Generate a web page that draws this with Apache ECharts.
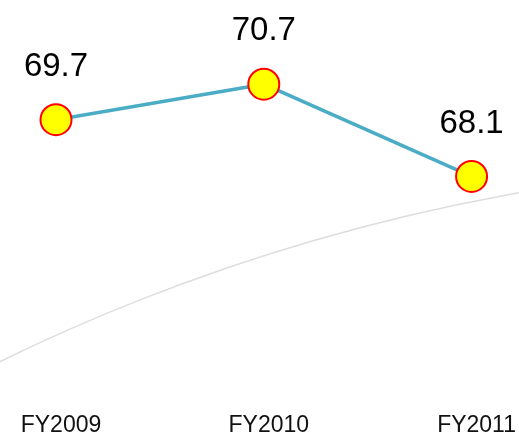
<!DOCTYPE html>
<html>
<head>
<meta charset="utf-8">
<script src="https://cdn.jsdelivr.net/npm/echarts@6/dist/echarts.min.js"></script>
<style>html,body{margin:0;padding:0;background:#fff;}#c{width:519px;height:437px;}</style>
</head>
<body>
<div id="c"></div>
<script>
var categories = ['FY2009', 'FY2010', 'FY2011'];
var values = [69.7, 70.7, 68.1];

var chart = echarts.init(document.getElementById('c'));
chart.setOption({
  animation: false,
  backgroundColor: '#ffffff',
  grid: { left: 56, right: 46, top: 38, bottom: 40 },
  graphic: [{
    type: 'circle',
    z: 0,
    silent: true,
    shape: { cx: 859, cy: 2120, r: 1957 },
    style: { fill: 'none', stroke: '#dddddd', lineWidth: 1.5 }
  }],
  xAxis: {
    type: 'category',
    data: categories,
    boundaryGap: false,
    axisLine: { show: false },
    axisTick: { show: false },
    splitLine: { show: false },
    axisLabel: {
      margin: 21,
      fontSize: 23,
      padding: [0, 0, 0, 10],
      fontFamily: 'Liberation Sans, Arial, sans-serif',
      color: '#111111'
    }
  },
  yAxis: {
    type: 'value',
    min: 62,
    max: 72,
    show: false,
    splitLine: { show: false }
  },
  series: [{
    type: 'line',
    data: values,
    z: 5,
    symbol: 'circle',
    symbolSize: 31,
    lineStyle: { color: '#4bacc6', width: 3.5 },
    itemStyle: { color: '#ffff00', borderColor: '#ff0000', borderWidth: 2 },
    label: {
      show: true,
      position: 'top',
      distance: 20,
      fontSize: 33,
      fontFamily: 'Liberation Sans, Arial, sans-serif',
      color: '#000000',
      formatter: function (p) { return p.value.toFixed(1); }
    }
  }]
});
</script>
</body>
</html>
